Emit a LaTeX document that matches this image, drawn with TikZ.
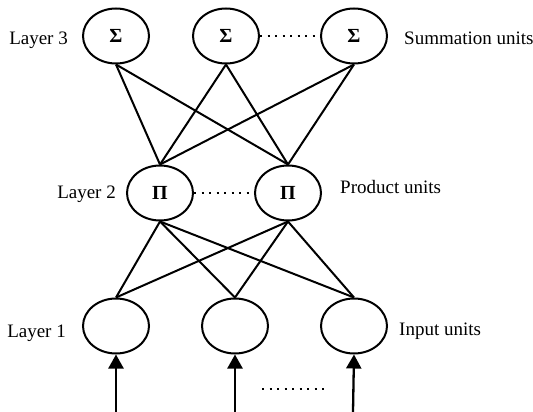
\documentclass[tikz,border=0pt]{standalone}
\usepackage{fontspec}
\setmainfont{Liberation Serif}
\usetikzlibrary{shapes.geometric,arrows.meta}
\tikzset{
  unit/.style={draw,ellipse,line width=2pt,minimum width=66pt,minimum height=55pt,
    inner sep=0pt,font=\fontsize{20}{20}\selectfont\bfseries},
  lab/.style={font=\fontsize{19}{19}\selectfont,inner sep=0pt},
  link/.style={line width=2pt},
  dots/.style={line width=2.2pt,dash pattern=on 2pt off 5.5pt},
  feed/.style={line width=2.3pt,-{Triangle[width=15pt,length=14pt]}}
}
\begin{document}
\begin{tikzpicture}[x=1pt,y=-1pt]
    \useasboundingbox (0,0) rectangle (533,412);
    % layer 3: summation units
    \node[unit] (s1) at (116,36) {Σ};
    \node[unit] (s2) at (226,36) {Σ};
    \node[unit] (s3) at (354,36) {Σ};
    % layer 2: product units
    \node[unit] (p1) at (160,193) {Π};
    \node[unit] (p2) at (288,193) {Π};
    % layer 1: input units
    \node[unit] (i1) at (116,326) {};
    \node[unit] (i2) at (235,326) {};
    \node[unit] (i3) at (354,326) {};
    \node[lab,anchor=base east] (l3) at (68,45) {Layer 3};
    \node[lab,anchor=base east] (l2) at (116,198) {Layer 2};
    \node[lab,anchor=base east] (l1) at (66,337) {Layer 1};
    \node[lab,anchor=base west] (t3) at (404,45) {Summation units};
    \node[lab,anchor=base west] (t2) at (340,193) {Product units};
    \node[lab,anchor=base west] (t1) at (399,335) {Input units};
    \foreach \s in {s1,s2,s3}
        \foreach \p in {p1,p2}
            \draw[link] (\s.south) -- (\p.north);
    \foreach \p in {p1,p2}
        \foreach \i in {i1,i2,i3}
            \draw[link] (\p.south) -- (\i.north);
    \draw[dots] (s2.east) -- (s3.west);
    \draw[dots] (p1.east) -- (p2.west);
    \coordinate (x1) at (116,412);
    \coordinate (x2) at (235,412);
    \coordinate (x3) at (353,412);
    \foreach \k in {1,2,3}
        \draw[feed] (x\k) -- (i\k.south);
    \coordinate (d1) at (262,389);
    \coordinate (d2) at (324,389);
    \draw[dots] (d1) -- (d2);
\end{tikzpicture}
\end{document}
